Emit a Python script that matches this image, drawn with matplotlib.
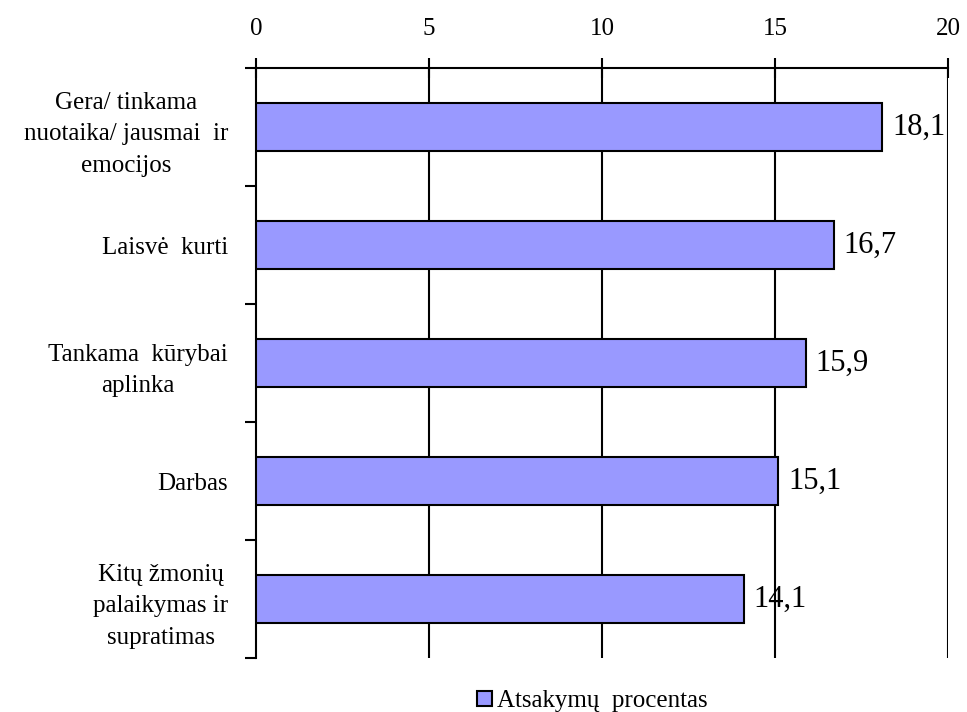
import matplotlib
matplotlib.use("Agg")
import matplotlib.pyplot as plt

plt.rcParams['font.family'] = ['Liberation Serif', 'DejaVu Serif']

# duomenys
kategorijos = [
    "Gera/ tinkama\nnuotaika/ jausmai  ir\nemocijos",
    "Laisvė  kurti",
    "Tankama  kūrybai\naplinka",
    "Darbas",
    "Kitų žmonių\npalaikymas ir\nsupratimas",
]
procentai = [18.1, 16.7, 15.9, 15.1, 14.1]
x_ticks = [0, 5, 10, 15, 20]

fig = plt.figure(figsize=(9.67, 7.12), dpi=100)
ax = fig.add_axes([0.2647, 0.0758, 0.7156, 0.8287])

y = list(range(len(kategorijos)))
bars = ax.barh(y, procentai, height=0.4, color='#9999FF', edgecolor='black',
               linewidth=1.5, label="Atsakymų  procentas", zorder=3)

for yi, v in zip(y, procentai):
    ax.annotate(f"{v:.1f}".replace(".", ","), (v, yi), xytext=(7, 0),
                textcoords='offset points', va='center', ha='left',
                fontsize=22, zorder=4)

# tinklelis
for xv in x_ticks[1:]:
    ax.axvline(xv, color='black', linewidth=1.5, zorder=1)

ax.set_xlim(0, 20)
ax.set_ylim(4.5, -0.5)
ax.xaxis.tick_top()
ax.set_xticks(x_ticks)
ax.tick_params(axis='x', direction='inout', length=14, width=1.5, labelsize=18, pad=13)

ax.set_yticks(y)
ax.set_yticklabels(kategorijos, fontsize=18, multialignment='center', linespacing=1.58)
ax.tick_params(axis='y', which='major', length=0, pad=20)
ax.set_yticks([i - 0.5 for i in range(len(kategorijos) + 1)], minor=True)
ax.tick_params(axis='y', which='minor', direction='out', length=8, width=1.5)

for s in ['right', 'bottom']:
    ax.spines[s].set_visible(False)
ax.spines['left'].set_linewidth(1.5)
ax.spines['top'].set_linewidth(1.5)

fig.legend(handles=[bars], labels=["Atsakymų  procentas"], loc='lower center',
           bbox_to_anchor=(0.613, -0.032), frameon=False, fontsize=18,
           handlelength=0.6, handleheight=0.6, handletextpad=0.2)

fig.savefig("out.png", dpi=100)
